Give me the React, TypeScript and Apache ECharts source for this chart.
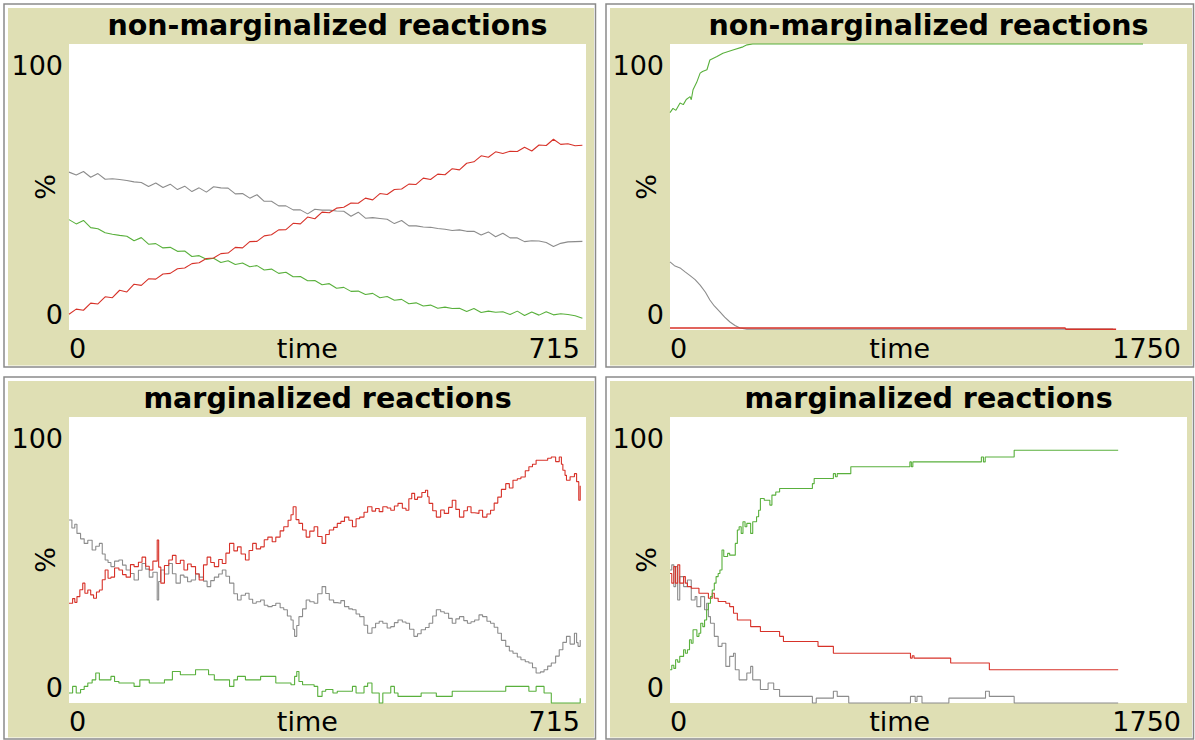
import React, { useEffect, useRef } from 'react';
import * as echarts from 'echarts';

// ---------- texts ----------
const panelTitles = ['non-marginalized reactions', 'non-marginalized reactions', 'marginalized reactions', 'marginalized reactions'];
const xMaxValues = [715, 1750, 715, 1750];
const xMaxLabels = ['715', '1750', '715', '1750'];
const yTickLabels = ['0', '100'];
const xMinLabel = '0';
const xAxisName = 'time';
const yAxisName = '%';

// ---------- panel 1 (non-marginalized, 0..715) ----------
const p1Time = [0,10,20,30,40,50,60,70,80,90,100,110,120,130,140,150,160,170,180,190,200,210,220,230,240,250,260,270,280,290,300,310,320,330,340,350,360,370,380,390,400,410,420,430,440,450,460,470,480,490,500,510,520,530,540,550,560,570,580,590,600,610,620,630,640,650,660,670,680,690,700,710];
const p1Red = [5.5,7.3,6.9,9.4,9.1,11.6,11.3,13.9,13.3,16.0,15.6,17.9,17.8,19.6,19.8,21.4,21.7,23.2,23.5,25.0,25.2,26.7,26.9,28.9,28.7,30.9,31.0,32.9,33.3,35.0,35.1,37.3,37.1,39.5,38.9,41.2,41.0,42.6,42.9,44.4,44.3,46.1,45.5,47.7,47.4,49.1,49.3,51.0,50.9,53.1,52.6,54.5,54.3,56.4,56.0,58.3,58.8,60.9,60.4,62.3,61.7,62.5,62.4,63.9,62.6,64.7,64.5,66.7,64.9,65.1,64.4,64.6];
const p1Gray = [55.2,54.2,55.4,53.4,54.7,52.7,52.9,52.6,52.3,51.8,51.6,50.2,51.4,49.8,51.0,49.1,50.3,48.4,49.7,48.2,50.1,49.7,49.6,47.6,47.7,46.1,47.3,45.0,45.0,43.4,43.4,42.0,42.0,40.6,42.2,41.9,41.9,41.6,41.5,39.8,41.2,39.1,39.3,39.0,38.7,37.2,38.3,36.4,36.4,36.0,35.9,35.5,35.2,34.8,35.0,34.5,34.5,33.2,34.3,32.6,33.8,32.2,32.2,30.9,31.2,31.1,30.6,29.2,30.3,30.8,30.9,31.0];
const p1Green = [38.6,37.1,38.3,35.8,35.4,34.0,33.5,33.1,32.8,31.2,32.3,30.0,30.2,28.7,28.9,27.5,27.6,25.7,26.0,24.7,25.1,23.6,24.2,22.9,23.4,22.1,22.5,21.0,21.3,19.8,20.2,18.6,18.7,17.2,17.3,15.8,16.2,14.6,14.9,13.5,13.6,12.4,12.8,11.3,11.7,10.4,10.7,9.2,9.5,8.4,8.7,7.6,8.0,7.5,7.6,6.5,7.5,6.1,6.6,6.2,6.4,5.4,6.6,5.1,6.3,5.2,6.4,5.3,5.7,5.4,5.0,4.1];

// ---------- panel 2 (non-marginalized, 0..1750) : [time, %] ----------
const p2Green = [[0,76],[10,77.5],[20,76.8],[34,79.4],[45,78.8],[55,80.6],[68,81.6],[72,80.5],[78,84],[90,86.5],[102,89.8],[110,90.4],[125,91],[135,94.4],[159,95.6],[179,96.8],[213,97.9],[247,99],[261,99.7],[280,100],[1601,100]];
const p2Gray = [[0,23.8],[15,22.5],[34,21.7],[50,20.4],[68,19],[85,17.6],[102,15.7],[120,13.2],[135,10.5],[150,8.4],[169,6.3],[185,4.5],[203,2.8],[220,1.6],[237,0.7],[260,0.3],[1500,0.3]];
const p2Red = [[0,0.7],[1337,0.7],[1340,0.3],[1510,0.3]];

// ---------- panel 3 (marginalized, 0..715) : [time, %] ----------
const p3Red = [[0,34.9],[5,36.5],[8,35.2],[11,37.2],[15,39.6],[19,41.9],[22,38.4],[26,39.5],[30,37.8],[34,36.6],[38,38.8],[42,39.5],[46,43.1],[50,46.5],[54,43.6],[58,44],[63,47.2],[69,46.5],[74,44.9],[79,44],[85,48.4],[90,47.7],[96,49.2],[101,51],[106,47.8],[111,46.5],[116,49.6],[122,57],[124,47.5],[127,41.9],[132,48.1],[138,50],[143,51.6],[148,48.8],[154,49.9],[159,46.5],[164,48.6],[169,47.7],[175,45.1],[180,43],[186,48.3],[191,51],[196,49.1],[201,47.7],[207,50.2],[212,48.8],[217,52.4],[222,55.8],[228,53.2],[233,54.6],[238,52.1],[244,50],[249,53.3],[254,55.8],[259,53.9],[265,54.6],[270,57.1],[275,58],[281,56.4],[286,58],[292,60.2],[297,61.6],[303,63.9],[307,65.8],[310,68.6],[314,64.1],[318,62.8],[323,60.5],[328,58],[333,60.1],[339,61.6],[344,58.2],[350,55.8],[355,58.9],[360,60.5],[366,61.4],[371,62.8],[376,63.5],[381,65],[387,63.9],[392,61.6],[397,64.4],[402,65],[408,66.7],[413,68.6],[419,67.1],[424,68],[429,66.9],[434,68.6],[440,68.2],[445,67.4],[450,68.9],[455,69.8],[461,68.1],[466,67.4],[470,71.4],[474,73.3],[478,71.2],[482,72],[488,73.6],[493,74.4],[496,72.1],[498,69.8],[503,67.2],[508,65],[514,67.5],[519,66.3],[525,68.4],[530,70.9],[535,67.7],[540,65],[546,67.2],[551,68.6],[556,66.5],[561,66.3],[567,67.4],[572,65],[578,66.1],[583,67.4],[588,69.9],[593,72],[598,74.7],[604,76.7],[609,75.2],[614,77.9],[620,78.4],[625,79],[631,81.2],[636,82.6],[641,83.5],[646,84.9],[652,84.9],[657,84.9],[662,85.6],[667,86],[673,84.4],[678,86],[681,83.5],[683,81.4],[686,79.6],[688,77.9],[693,79.1],[699,80.2],[702,77.4],[705,70.9],[707,76]];
const p3Gray = [[0,64],[4,61.2],[8,62.5],[11,59.3],[16,57.4],[21,55.8],[26,56.9],[32,53.5],[37,54.8],[42,55.8],[46,52.1],[50,50],[54,49.1],[58,47.7],[63,49.6],[69,50],[74,48.2],[79,46.5],[85,45.3],[90,43],[96,46.4],[101,48.8],[106,46.8],[111,44],[116,45.7],[122,36],[124,42.5],[127,46.5],[132,45.1],[138,48.8],[143,45.2],[148,41.9],[154,44.7],[159,44],[164,42.4],[169,43],[175,45.2],[180,44],[186,42.6],[191,40.7],[196,42.8],[201,44],[207,45.1],[212,46.5],[217,44.3],[222,41.9],[228,38.2],[233,36],[238,37.7],[244,38.4],[249,36.3],[254,34.9],[259,35.4],[265,36],[270,34.2],[275,33.7],[281,34.1],[286,34.9],[292,33.3],[297,32.6],[302,30.4],[307,29],[310,25.8],[312,23.3],[315,27.1],[318,30.2],[323,32.9],[328,36],[333,35.4],[339,34.9],[344,38.2],[350,40.7],[355,38.3],[360,36],[366,35.1],[371,34.9],[376,35.8],[381,33.7],[387,32.9],[392,32.6],[397,31.1],[402,30.2],[408,27.2],[413,24.4],[419,26.3],[424,27.9],[429,28.6],[434,27.9],[440,26.2],[445,26.7],[450,28.1],[455,29],[461,28.3],[466,27.9],[471,25.8],[477,23.3],[482,24.2],[487,25.6],[493,26.4],[498,27.9],[503,30.4],[508,32.6],[514,31.9],[519,31.4],[525,29.6],[530,27.9],[535,29.4],[540,30.2],[546,28.8],[551,27.9],[556,28.4],[561,29],[567,30.8],[572,30.2],[578,28.6],[583,27.9],[588,26.5],[593,24.4],[598,21.9],[604,19.8],[609,18.2],[614,17.4],[620,16.1],[625,15.1],[631,14.4],[636,14],[641,12.3],[646,10.5],[652,10.9],[657,11.6],[662,12.9],[667,14],[673,16.4],[678,18.6],[683,21.2],[688,23.3],[693,20.6],[699,24.4],[702,21.1],[704,19.8],[707,22]];
const p3Green = [[0,3.5],[5,5.8],[10,3.5],[16,4.7],[21,5.8],[26,7],[32,8.1],[37,10.5],[42,8.1],[58,9.3],[63,7.5],[69,7],[79,7],[90,5.8],[98,8.1],[101,8.1],[111,7],[132,8.1],[143,11],[154,9.9],[169,9.9],[175,11.6],[185,11.6],[193,9.9],[201,8.1],[222,5.8],[228,8.1],[233,9.3],[244,8.1],[254,8.1],[265,9.3],[275,9.3],[286,7],[307,6.4],[312,9.3],[315,11],[318,7.5],[323,6.4],[339,5.8],[344,2.3],[350,4.1],[355,4.7],[365,3.5],[371,4.1],[381,4.1],[392,5.8],[397,3.5],[402,3.5],[408,5.8],[413,7],[419,3.5],[424,3.5],[429,0],[434,3.5],[445,5.8],[450,3.5],[455,2.3],[477,2.3],[487,3.5],[498,3.5],[508,2.3],[530,4.1],[593,4.1],[604,5.8],[625,5.8],[636,4.1],[646,5.8],[657,3.5],[667,0],[699,0],[707,1.7]];

// ---------- panel 4 (marginalized, 0..1750) : [time, %] ----------
const p4Green = [[0,11.6],[6,13.2],[13,12.1],[19,15.1],[26,14.3],[33,16.3],[39,16.3],[46,18.6],[52,17.4],[59,18.6],[66,22.1],[72,20.9],[78,25.6],[85,25.6],[91,23.3],[98,24.4],[104,27.9],[111,26.7],[117,29],[124,32.6],[130,34.9],[137,37.2],[143,39.5],[150,41.9],[156,44.2],[163,45.3],[169,46.5],[176,53.5],[182,51.2],[189,51.2],[195,52.3],[202,51.7],[215,51.7],[221,55.8],[228,60.5],[234,61.6],[241,59.3],[247,63.4],[254,61.6],[260,62.8],[267,62.8],[273,59.3],[280,63.4],[286,63.4],[293,65.1],[300,67.4],[306,71.5],[313,71.5],[319,70.9],[332,70.9],[338,69.2],[345,72.7],[351,72.7],[358,73.8],[371,75],[475,75],[482,76.7],[488,78.5],[547,78.5],[553,80.2],[560,79.1],[566,80.2],[605,80.2],[612,82.6],[807,82.6],[812,84.3],[817,82.6],[822,84.3],[1048,84.3],[1054,86],[1061,84.3],[1067,86],[1074,86],[1165,88.4],[1517,88.4]];
const p4Red = [[0,45.3],[6,41.9],[13,47.7],[19,41.9],[26,48.3],[33,41.9],[46,44.2],[52,41.9],[59,40.7],[72,40.1],[91,40.1],[98,38.4],[124,38.4],[130,36.6],[143,38.4],[150,36.6],[156,36.6],[163,35.5],[189,34.9],[202,33.7],[215,31.4],[228,29],[267,29],[273,26.7],[299,26.7],[306,25],[358,25],[371,23.3],[384,21.5],[488,21.5],[501,19.8],[547,19.8],[553,17.4],[807,17.4],[814,15.7],[820,16.5],[826,15.7],[944,15.7],[950,14],[1074,14],[1081,11.6],[1517,11.6]];
const p4Gray = [[0,46.5],[6,48.3],[13,40.7],[19,47.7],[26,36],[33,44.2],[46,40.7],[59,43],[72,36],[85,37.2],[91,33.7],[104,37.2],[117,32.6],[124,34.9],[130,30.2],[137,27.9],[150,23.3],[163,19.8],[176,20.9],[189,12.8],[202,16.3],[215,17.4],[221,11.6],[234,8.1],[247,8.1],[260,10.5],[273,12.8],[280,8.1],[306,4.7],[332,7],[351,4.7],[371,2.3],[482,0],[495,1.7],[553,4.1],[566,2.3],[605,0],[814,2.3],[830,0.5],[836,2.3],[853,0],[944,1.7],[1068,4.1],[1081,2.3],[1165,0],[1517,0]];

const RED = '#d73229';
const GREEN = '#59b03c';
const GRAY = '#8c8c8c';
const BEIGE = '#dfdfb4';
const FONT = 'DejaVu Sans';

// panel frames [x0, y0, x1, y1] and plot rectangles [left, top, width, height]
const frames = [[4, 4, 595.5, 367], [606, 4, 1193.5, 367], [4, 377, 595.5, 739], [606, 377, 1193.5, 739]];
const plots = [[69, 44, 517, 286], [670, 44, 517, 286], [69, 417, 517, 286], [670, 417, 517, 286]];

function zip(t: number[], v: number[]) {
  return t.map((x, i) => [x, v[i]]);
}

export default function App() {
  const ref = useRef<HTMLDivElement>(null);
  useEffect(() => {
    if (!ref.current) return;
    const chart = echarts.init(ref.current, undefined, { renderer: 'svg' });

    const seriesData = [
      [[p1Gray, GRAY], [p1Green, GREEN], [p1Red, RED]].map(([d, c]) => [zip(p1Time, d as number[]), c, false]),
      [[p2Gray, GRAY], [p2Red, RED], [p2Green, GREEN]].map(([d, c]) => [d, c, false]),
      [[p3Green, GREEN], [p3Gray, GRAY], [p3Red, RED]].map(([d, c]) => [d, c, 'end']),
      [[p4Gray, GRAY], [p4Red, RED], [p4Green, GREEN]].map(([d, c]) => [d, c, 'end']),
    ];

    const grids: any[] = [];
    const xAxes: any[] = [];
    const yAxes: any[] = [];
    const series: any[] = [];
    const graphic: any[] = [];
    const txt = (x: number, y: number, text: string, align: string, extra: any = {}) => ({
      type: 'text', x, y, z: 10,
      style: { text, fill: '#000', font: `27px "${FONT}"`, textAlign: align, textVerticalAlign: 'middle', ...extra },
    });

    for (let i = 0; i < 4; i++) {
      const [x0, y0, x1, y1] = frames[i];
      const [pl, pt, pw, ph] = plots[i];
      grids.push({ left: pl, top: pt, width: pw, height: ph, show: true, backgroundColor: '#fff', borderWidth: 0, z: 1 });
      xAxes.push({ gridIndex: i, type: 'value', min: 0, max: xMaxValues[i], show: false, splitLine: { show: false } });
      yAxes.push({ gridIndex: i, type: 'value', min: 0, max: 100, show: false, splitLine: { show: false } });
      for (const [d, c, step] of seriesData[i] as any[]) {
        series.push({
          type: 'line', xAxisIndex: i, yAxisIndex: i, data: d, step, showSymbol: false, symbol: 'none',
          lineStyle: { color: c, width: i === 1 && c === RED ? 1.5 : 1.1 }, z: 3, clip: false,
        });
      }
      graphic.push({ type: 'rect', z: 0, shape: { x: x0, y: y0, width: x1 - x0, height: y1 - y0 }, style: { fill: '#fff', stroke: '#8a8a8a', lineWidth: 1.5 } });
      graphic.push({ type: 'rect', z: 0, z2: 1, shape: { x: x0 + 4, y: y0 + 4, width: x1 - x0 - 5.5, height: y1 - y0 - 5.5 }, style: { fill: BEIGE } });
      graphic.push({ type: 'text', x: pl + pw / 2, y: y0 + 21, z: 10, style: { text: panelTitles[i], fill: '#000', font: `bold 28.5px "${FONT}"`, textAlign: 'center', textVerticalAlign: 'middle' } });
      graphic.push(txt(pl - 6, pt + 21, yTickLabels[1], 'right'));
      graphic.push(txt(pl - 6, pt + ph - 16, yTickLabels[0], 'right'));
      graphic.push({ ...txt(0, 0, yAxisName, 'center'), x: pl - 24, y: pt + ph / 2, rotation: Math.PI / 2 });
      graphic.push(txt(pl, pt + ph + 18, xMinLabel, 'left'));
      graphic.push(txt(pl + pw - 6, pt + ph + 18, xMaxLabels[i], 'right'));
      const wMin = 17.2;
      const wMax = xMaxLabels[i].length * 17.2;
      graphic.push(txt((pl + wMin + pl + pw - 6 - wMax) / 2, pt + ph + 18, xAxisName, 'center'));
    }

    chart.setOption({
      animation: false,
      backgroundColor: '#fff',
      grid: grids,
      xAxis: xAxes,
      yAxis: yAxes,
      series,
      graphic,
    });
    return () => chart.dispose();
  }, []);
  return <div ref={ref} style={{ position: 'fixed', left: 0, top: 0, width: 1195, height: 740 }} />;
}
